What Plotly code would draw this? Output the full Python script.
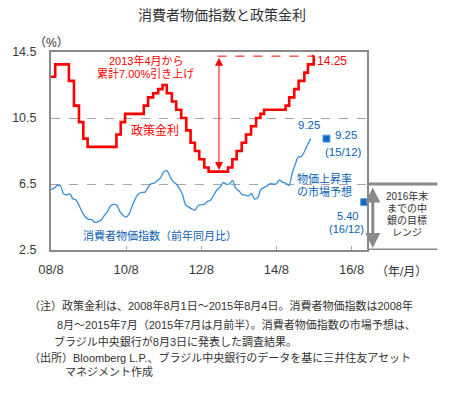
import plotly.graph_objects as go

# ---------------- data ----------------
rate_dates = ["2008-08-01", "2008-09-11", "2009-01-22", "2009-03-12", "2009-04-30", "2009-06-11",
              "2009-07-23", "2010-04-29", "2010-06-10", "2010-07-22", "2011-01-20", "2011-03-03",
              "2011-04-21", "2011-06-09", "2011-07-21", "2011-09-01", "2011-10-20", "2011-12-01",
              "2012-01-19", "2012-03-08", "2012-04-19", "2012-05-31", "2012-07-12", "2012-08-30",
              "2012-10-11", "2013-04-18", "2013-05-30", "2013-07-11", "2013-08-29", "2013-10-10",
              "2013-11-28", "2014-01-16", "2014-02-27", "2014-04-03", "2014-10-30", "2014-12-04",
              "2015-01-22", "2015-03-05", "2015-04-30", "2015-06-04", "2015-07-30", "2015-08-04"]
rate_values = [13.00, 13.75, 12.75, 11.25, 10.25, 9.25,
               8.75, 9.50, 10.25, 10.75, 11.25, 11.75,
               12.00, 12.25, 12.50, 12.00, 11.50, 11.00,
               10.50, 9.75, 9.00, 8.50, 8.00, 7.50,
               7.25, 7.50, 8.00, 8.50, 9.00, 9.50,
               10.00, 10.50, 10.75, 11.00, 11.25, 11.75,
               12.25, 12.75, 13.25, 13.75, 14.25, 14.25]

cpi_months = ["2008-08", "2008-09", "2008-10", "2008-11", "2008-12",
              "2009-01", "2009-02", "2009-03", "2009-04", "2009-05", "2009-06",
              "2009-07", "2009-08", "2009-09", "2009-10", "2009-11", "2009-12",
              "2010-01", "2010-02", "2010-03", "2010-04", "2010-05", "2010-06",
              "2010-07", "2010-08", "2010-09", "2010-10", "2010-11", "2010-12",
              "2011-01", "2011-02", "2011-03", "2011-04", "2011-05", "2011-06",
              "2011-07", "2011-08", "2011-09", "2011-10", "2011-11", "2011-12",
              "2012-01", "2012-02", "2012-03", "2012-04", "2012-05", "2012-06",
              "2012-07", "2012-08", "2012-09", "2012-10", "2012-11", "2012-12",
              "2013-01", "2013-02", "2013-03", "2013-04", "2013-05", "2013-06",
              "2013-07", "2013-08", "2013-09", "2013-10", "2013-11", "2013-12",
              "2014-01", "2014-02", "2014-03", "2014-04", "2014-05", "2014-06",
              "2014-07", "2014-08", "2014-09", "2014-10", "2014-11", "2014-12",
              "2015-01", "2015-02", "2015-03", "2015-04", "2015-05", "2015-06", "2015-07"]
cpi_values = [6.17, 6.25, 6.41, 6.39, 5.90,
              5.84, 5.90, 5.61, 5.53, 5.20, 4.80,
              4.50, 4.36, 4.34, 4.17, 4.22, 4.31,
              4.59, 4.83, 5.17, 5.26, 5.22, 4.84,
              4.60, 4.49, 4.70, 5.20, 5.63, 5.91,
              5.99, 6.01, 6.30, 6.51, 6.55, 6.71,
              6.87, 7.23, 7.31, 6.97, 6.64, 6.50,
              6.22, 5.85, 5.24, 5.10, 4.99, 4.92,
              5.20, 5.24, 5.28, 5.45, 5.53, 5.84,
              6.15, 6.31, 6.59, 6.49, 6.50, 6.70,
              6.27, 6.09, 5.86, 5.84, 5.77, 5.91,
              5.59, 5.68, 6.15, 6.28, 6.37, 6.52,
              6.50, 6.51, 6.75, 6.59, 6.56, 6.41,
              7.14, 7.70, 8.13, 8.17, 8.47, 8.89, 9.25]

forecast_dates = ["2015-12-01", "2016-12-01"]
forecast_values = [9.25, 5.40]

x_tick_vals = ["2008-08-01", "2010-08-01", "2012-08-01", "2014-08-01", "2016-08-01"]
x_tick_text = ["08/8", "10/8", "12/8", "14/8", "16/8"]
y_tick_vals = [2.5, 6.5, 10.5, 14.5]
y_tick_text = ["2.5", "6.5", "10.5", "14.5"]

target_low, target_high = 2.5, 6.5
hike_start, hike_end = 7.25, 14.25

# ---------------- layout helpers ----------------
W, H = 454, 396
L, R, T, B = 39, 367, 52, 250
JP = "Liberation Sans, Noto Sans CJK JP"
RED = "#ff0000"
BLUE = "#0a5fb4"
GRAY = "#8a8a8a"
TXT = "#333333"


def P(px, py):
    return (px - L) / (R - L), (B - py) / (B - T)


fig = go.Figure()

fig.add_trace(go.Scatter(x=cpi_months, y=cpi_values, mode="lines",
                         line=dict(color="#3a8ed4", width=1.3, shape="spline", smoothing=0.8),
                         hoverinfo="skip", showlegend=False))
fig.add_trace(go.Scatter(x=rate_dates, y=rate_values, mode="lines",
                         line=dict(color=RED, width=2.6, shape="hv"),
                         hoverinfo="skip", showlegend=False))
fig.add_trace(go.Scatter(x=forecast_dates, y=forecast_values, mode="markers",
                         marker=dict(symbol="square", size=7, color="#1466c0",
                                     line=dict(color="#5aa6f0", width=1)),
                         hoverinfo="skip", showlegend=False))

# dashed red line at 14.25
fig.add_shape(type="line", xref="x", yref="y", x0="2013-01-05", x1=rate_dates[-2],
              y0=hike_end, y1=hike_end, line=dict(color=RED, width=1, dash="dash"))

# range bracket lines outside plot
x_end = (440 - L) / (R - L)
for v in (target_high, target_low):
    fig.add_shape(type="line", xref="paper", yref="y", x0=1, x1=x_end, y0=v, y1=v,
                  line=dict(color=GRAY, width=3))

annotations = []


def txt(s, px, py, color=TXT, size=11, xanchor="center", family=JP):
    x, y = P(px, py)
    annotations.append(dict(text=s, x=x, y=y, xref="paper", yref="paper", showarrow=False,
                            xanchor=xanchor, yanchor="middle", borderpad=0,
                            font=dict(family=family, size=size, color=color)))


txt("消費者物価指数と政策金利", 216, 15, size=14)
txt("（%）", 39, 43, size=12)
txt("（年/月）", 403, 272, size=12)
txt("2013年4月から", 138, 60, color=RED, size=11)
txt("累計7.00%引き上げ", 137, 73, color=RED, size=11)
txt("14.25", 331, 61, color=RED, size=12)
txt("政策金利", 147, 131, color=RED, size=12)
txt("9.25", 307, 125, color=BLUE, size=11.5)
txt("9.25", 345, 135, color=BLUE, size=11.5)
txt("(15/12)", 343, 152, color=BLUE, size=11.5)
txt("物価上昇率", 323, 178, color=BLUE, size=11)
txt("の市場予想", 323, 191, color=BLUE, size=11)
txt("5.40", 347, 216, color=BLUE, size=11)
txt("(16/12)", 346, 229, color=BLUE, size=11)
txt("消費者物価指数（前年同月比）", 152, 235, color=BLUE, size=11)
txt("2016年末", 408, 196, size=10)
txt("までの中", 408, 208, size=10)
txt("銀の目標", 408, 220, size=10)
txt("レンジ", 408, 232, size=10)

foot = [
    ("（注）政策金利は、2008年8月1日～2015年8月4日。消費者物価指数は2008年", 15, 305),
    ("8月～2015年7月（2015年7月は月前半）。消費者物価指数の市場予想は、", 44, 324),
    ("ブラジル中央銀行が8月3日に発表した調査結果。", 41, 341),
    ("（出所）Bloomberg L.P.、ブラジル中央銀行のデータを基に三井住友アセット", 15, 357),
    ("マネジメント作成", 52, 372),
]
for s, px, py in foot:
    txt(s, px, py, size=11, xanchor="left")

# red double arrow
annotations.append(dict(x="2013-01-20", y=hike_start + 0.1, ax="2013-01-20", ay=hike_end,
                        xref="x", yref="y", axref="x", ayref="y", text="", showarrow=True,
                        arrowhead=2, arrowside="end+start", arrowsize=1.6, arrowwidth=1,
                        arrowcolor=RED, standoff=0, startstandoff=0))
# gray double arrow
annotations.append(dict(x=(373 - L) / (R - L), y=2.62, xref="paper", yref="y",
                        ax=0, ay=-62, axref="pixel", ayref="pixel", text="", showarrow=True,
                        arrowhead=2, arrowside="end+start", arrowsize=1, arrowwidth=3,
                        arrowcolor=GRAY, standoff=0, startstandoff=0))

fig.update_layout(
    width=W, height=H,
    margin=dict(l=L, r=W - R, t=T, b=H - B),
    paper_bgcolor="white", plot_bgcolor="white",
    showlegend=False,
    annotations=annotations,
    font=dict(family="Liberation Sans", color=TXT),
    xaxis=dict(type="date", range=["2008-08-01", "2016-12-29"],
               tickvals=x_tick_vals, ticktext=x_tick_text,
               ticks="inside", ticklen=4, tickcolor="#aaaaaa", tickwidth=1,
               ticklabelstandoff=6,
               showgrid=False, zeroline=False,
               showline=True, linecolor=GRAY, linewidth=2, mirror=True,
               tickfont=dict(family="Liberation Sans", size=13, color="#3a3a3a")),
    yaxis=dict(range=[2.5, 14.5], tickvals=y_tick_vals, ticktext=y_tick_text,
               ticks="outside", ticklen=10, tickcolor="rgba(0,0,0,0)", ticklabelstandoff=0,
               showgrid=True, gridcolor="#a8a2b8", griddash="dash", gridwidth=1,
               zeroline=False, showline=True, linecolor=GRAY, linewidth=2, mirror=True,
               tickfont=dict(family="Liberation Sans", size=12.5, color="#3a3a3a")),
)

fig.write_html("out.html", config={"displayModeBar": False},
               post_script="document.body.style.margin='0';")
